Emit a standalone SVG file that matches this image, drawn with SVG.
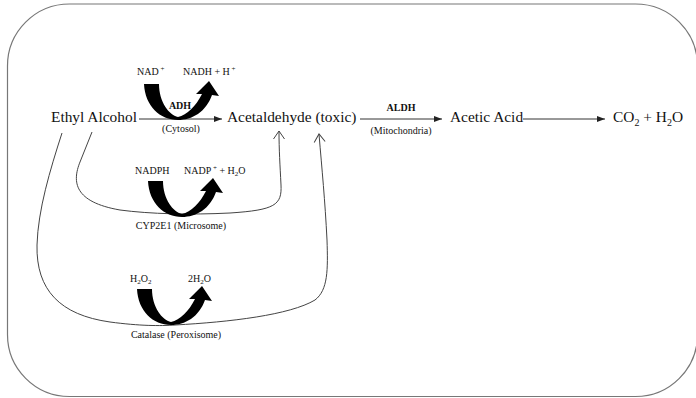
<svg xmlns="http://www.w3.org/2000/svg" width="696" height="398" viewBox="0 0 696 398">
<style>
text{font-family:"Liberation Serif","Times New Roman",serif;fill:#111}
.big{font-size:15.4px}
.sm{font-size:10px}
.b{font-weight:bold}
.ln{fill:none;stroke:#333;stroke-width:1}
.loop{fill:none;stroke:#444;stroke-width:1}
.uarr{fill:#000}
</style>
<defs>
<marker id="arr" viewBox="0 0 8 6" refX="8" refY="3" markerWidth="8" markerHeight="6" markerUnits="userSpaceOnUse" orient="auto"><path d="M0,0 L8,3 L0,6 Z" fill="#222"/></marker>
<marker id="open" viewBox="-10 -7 12 14" refX="0" refY="0" markerWidth="12" markerHeight="14" markerUnits="userSpaceOnUse" orient="auto"><path d="M-8,-5.5 L0,0 L-8,5.5" fill="none" stroke="#444" stroke-width="1"/></marker>
<path id="uturn" d="M -34,-36 L -19,-36 C -19,-18 -9,-5 0,-3 C 9,-5 18,-14 24,-26 L 18,-26 L 31,-39 L 41,-24 L 34,-25 C 28,-8 14,0 0,0 C -18,0 -33,-14 -34,-36 Z"/>
</defs>
<rect x="0" y="0" width="696" height="398" fill="#fff"/>
<rect id="frame" x="7.5" y="4" width="690" height="392.5" rx="62" ry="62" fill="#fff" stroke="#777" stroke-width="1.2"/>

<g id="connectors">
<line class="ln" x1="139" y1="119" x2="222" y2="119" marker-end="url(#arr)"/>
<line class="ln" x1="360" y1="119" x2="442" y2="119" marker-end="url(#arr)"/>
<line class="ln" x1="523" y1="119" x2="605" y2="119" marker-end="url(#arr)"/>
<path class="loop" d="M 92,132 L 80,162 C 72,182 74,202 120,210 C 150,214 190,215 230,213 C 275,210 282,205 281,185 C 280,165 279,150 279,131" marker-end="url(#open)"/>
<path class="loop" d="M 62,133 C 50,170 38,210 37,245 C 36,290 60,315 110,322 C 140,326 160,326 175,325 C 230,322 290,315 315,300 C 328,290 328,270 327,240 C 325,200 322,170 319,134" marker-end="url(#open)"/>
</g>

<g id="ethyl"><text class="big" x="51" y="122">Ethyl Alcohol</text></g>
<g id="acetaldehyde"><text class="big" x="227" y="122">Acetaldehyde (toxic)</text></g>
<g id="acetic"><text class="big" x="450" y="122">Acetic Acid</text></g>
<g id="co2"><text class="big" x="613" y="122">CO<tspan font-size="10" dy="4">2</tspan><tspan dy="-4"> + H</tspan><tspan font-size="10" dy="4">2</tspan><tspan dy="-4">O</tspan></text></g>

<g id="adh">
<text class="sm" x="137" y="75">NAD<tspan font-size="7" dy="-4"> +</tspan></text>
<text class="sm" x="183" y="75">NADH + H<tspan font-size="7" dy="-4"> +</tspan></text>
<use href="#uturn" class="uarr" transform="translate(178,120)"/>
<text class="sm b" x="180" y="109" text-anchor="middle" font-size="9">ADH</text>
<text class="sm" x="181" y="132" text-anchor="middle">(Cytosol)</text>
</g>

<g id="aldh">
<text class="b" x="401" y="111" text-anchor="middle" font-size="10">ALDH</text>
<text class="sm" x="401" y="134" text-anchor="middle">(Mitochondria)</text>
</g>

<g id="cyp2e1">
<text class="sm" x="135" y="174">NADPH</text>
<text class="sm" x="184" y="174">NADP<tspan font-size="7" dy="-4"> +</tspan><tspan dy="4"> + H</tspan><tspan font-size="7" dy="2">2</tspan><tspan dy="-2">O</tspan></text>
<use href="#uturn" class="uarr" transform="translate(182,217)"/>
<text class="sm" x="181" y="229" text-anchor="middle">CYP2E1 (Microsome)</text>
</g>

<g id="catalase">
<text class="sm" x="130" y="282">H<tspan font-size="7" dy="2">2</tspan><tspan dy="-2">O</tspan><tspan font-size="7" dy="2">2</tspan></text>
<text class="sm" x="188" y="282">2H<tspan font-size="7" dy="2">2</tspan><tspan dy="-2">O</tspan></text>
<use href="#uturn" class="uarr" transform="translate(171,325)"/>
<text class="sm" x="176" y="338" text-anchor="middle">Catalase (Peroxisome)</text>
</g>
</svg>
